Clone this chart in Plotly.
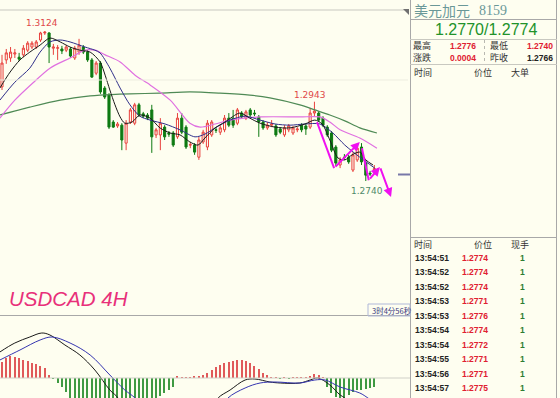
import plotly.graph_objects as go

W, H = 560, 398
BG = "#FEFEF0"

# ---------------- candle data (USDCAD 4H) ----------------
candle_idx = list(range(88))
opens = [1.2981, 1.3050, 1.3055, 1.3065, 1.3057, 1.3063, 1.3075, 1.3083, 1.3083, 1.3101,
         1.3119, 1.3119, 1.3080, 1.3080, 1.3078, 1.3075, 1.3078, 1.3055, 1.3070, 1.3083,
         1.3070, 1.3050, 1.3016, 1.3042, 1.2978, 1.2960, 1.2891, 1.2881, 1.2883, 1.2837,
         1.2891, 1.2888, 1.2935, 1.2912, 1.2909, 1.2922, 1.2858, 1.2858, 1.2878, 1.2863,
         1.2863, 1.2853, 1.2901, 1.2878, 1.2832, 1.2832, 1.2801, 1.2840, 1.2827, 1.2858,
         1.2871, 1.2865, 1.2871, 1.2901, 1.2901, 1.2888, 1.2914, 1.2901, 1.2922, 1.2914,
         1.2904, 1.2891, 1.2876, 1.2883, 1.2881, 1.2873, 1.2858, 1.2871, 1.2863, 1.2871,
         1.2883, 1.2881, 1.2878, 1.2914, 1.2914, 1.2901, 1.2878, 1.2863, 1.2827, 1.2781,
         1.2801, 1.2801, 1.2768, 1.2794, 1.2827, 1.2786, 1.2760, 1.2763]
closes = [1.3042, 1.3068, 1.3070, 1.3068, 1.3052, 1.3080, 1.3093, 1.3093, 1.3096, 1.3119,
          1.3121, 1.3083, 1.3083, 1.3081, 1.3073, 1.3083, 1.3060, 1.3080, 1.3088, 1.3070,
          1.3050, 1.3006, 1.3042, 1.2968, 1.2955, 1.2878, 1.2878, 1.2886, 1.2845, 1.2888,
          1.2922, 1.2935, 1.2909, 1.2906, 1.2901, 1.2853, 1.2871, 1.2888, 1.2853, 1.2860,
          1.2832, 1.2901, 1.2865, 1.2827, 1.2833, 1.2814, 1.2845, 1.2865, 1.2888, 1.2891,
          1.2870, 1.2876, 1.2901, 1.2883, 1.2883, 1.2922, 1.2904, 1.2917, 1.2909, 1.2912,
          1.2891, 1.2876, 1.2883, 1.2886, 1.2858, 1.2865, 1.2876, 1.2881, 1.2876, 1.2873,
          1.2871, 1.2873, 1.2914, 1.2919, 1.2896, 1.2883, 1.2858, 1.2819, 1.2786, 1.2794,
          1.2800, 1.2789, 1.2807, 1.2824, 1.2789, 1.2755, 1.2758, 1.2772]
highs = [1.3063, 1.3078, 1.3083, 1.3078, 1.3068, 1.3088, 1.3098, 1.3098, 1.3101, 1.3122,
         1.3124, 1.3121, 1.3091, 1.3088, 1.3086, 1.3088, 1.3083, 1.3086, 1.3104, 1.3088,
         1.3075, 1.3055, 1.3047, 1.3047, 1.2983, 1.2965, 1.2896, 1.2891, 1.2888, 1.2896,
         1.2927, 1.2940, 1.2940, 1.2917, 1.2914, 1.2935, 1.2876, 1.2901, 1.2883, 1.2868,
         1.2868, 1.2914, 1.2914, 1.2883, 1.2840, 1.2837, 1.2853, 1.2871, 1.2896, 1.2896,
         1.2878, 1.2883, 1.2909, 1.2914, 1.2922, 1.2927, 1.2919, 1.2922, 1.2927, 1.2922,
         1.2909, 1.2896, 1.2891, 1.2896, 1.2886, 1.2878, 1.2883, 1.2886, 1.2881, 1.2878,
         1.2888, 1.2886, 1.2927, 1.2943, 1.2919, 1.2906, 1.2883, 1.2868, 1.2832, 1.2801,
         1.2809, 1.2807, 1.2814, 1.2832, 1.2837, 1.2794, 1.2766, 1.2781]
lows = [1.2973, 1.3040, 1.3045, 1.3055, 1.3047, 1.3057, 1.3070, 1.3078, 1.3078, 1.3096,
        1.3114, 1.3042, 1.3063, 1.3050, 1.3065, 1.3070, 1.3055, 1.3050, 1.3063, 1.3065,
        1.3045, 1.3004, 1.3011, 1.2963, 1.2950, 1.2873, 1.2876, 1.2876, 1.2819, 1.2819,
        1.2886, 1.2883, 1.2904, 1.2901, 1.2896, 1.2812, 1.2850, 1.2819, 1.2845, 1.2853,
        1.2827, 1.2848, 1.2860, 1.2822, 1.2824, 1.2807, 1.2794, 1.2835, 1.2819, 1.2853,
        1.2863, 1.2858, 1.2865, 1.2878, 1.2876, 1.2883, 1.2899, 1.2896, 1.2904, 1.2906,
        1.2853, 1.2871, 1.2871, 1.2878, 1.2853, 1.2860, 1.2853, 1.2865, 1.2858, 1.2865,
        1.2865, 1.2858, 1.2873, 1.2906, 1.2891, 1.2878, 1.2853, 1.2814, 1.2778, 1.2773,
        1.2794, 1.2784, 1.2763, 1.2789, 1.2781, 1.2740, 1.2753, 1.2758]

# moving averages (candle position, price)
ma5_x = [-0.5, 1.9, 4.2, 6.5, 8.9, 11.2, 13.6, 15.9, 18.2, 20.6, 22.9, 24.1, 25.2, 26.4, 27.6,
         28.7, 30.4, 32.2, 34.6, 36.9, 39.3, 41.6, 43.9, 45.8, 47.4, 49.8, 52.1, 55.6, 57.9,
         60.3, 63.8, 67.3, 70.8, 73.1, 74.8, 76.6, 78.5, 80.1, 81.8, 83.6, 85.0, 86.7]
ma5_y = [1.2978, 1.3019, 1.3050, 1.3070, 1.3088, 1.3106, 1.3096, 1.3083, 1.3075, 1.3070, 1.3045,
         1.3011, 1.2973, 1.2935, 1.2904, 1.2888, 1.2891, 1.2909, 1.2901, 1.2876, 1.2863, 1.2858,
         1.2840, 1.2832, 1.2850, 1.2876, 1.2891, 1.2914, 1.2901, 1.2888, 1.2878, 1.2876, 1.2886,
         1.2896, 1.2886, 1.2845, 1.2799, 1.2794, 1.2807, 1.2814, 1.2794, 1.2781]
ma10_x = [-0.5, 3.0, 6.5, 8.9, 11.2, 13.6, 15.9, 19.4, 21.7, 22.9, 25.2, 27.6, 29.9, 32.2, 34.6,
          38.1, 41.6, 45.1, 47.4, 49.8, 53.3, 56.8, 60.3, 63.8, 67.3, 70.8, 74.3, 77.3, 80.1,
          83.6, 87.1]
ma10_y = [1.2947, 1.2993, 1.3029, 1.3070, 1.3096, 1.3101, 1.3096, 1.3083, 1.3075, 1.3068, 1.3029,
          1.2978, 1.2935, 1.2906, 1.2896, 1.2886, 1.2871, 1.2853, 1.2860, 1.2876, 1.2896, 1.2906,
          1.2896, 1.2886, 1.2883, 1.2886, 1.2886, 1.2863, 1.2832, 1.2801, 1.2773]
ma20_x = [-0.5, 3.0, 7.2, 11.2, 15.9, 19.4, 21.7, 24.1, 27.6, 31.1, 34.6, 39.3, 43.9, 46.3, 49.8,
          53.3, 60.3, 69.6, 74.3, 76.6, 79.0, 83.6, 87.6]
ma20_y = [1.2901, 1.2947, 1.2991, 1.3029, 1.3055, 1.3075, 1.3075, 1.3063, 1.3045, 1.3011, 1.2986,
          1.2947, 1.2888, 1.2878, 1.2886, 1.2896, 1.2904, 1.2904, 1.2904, 1.2891, 1.2871, 1.2850,
          1.2824]
ma60_x = [-0.5, 6.5, 13.6, 20.6, 22.9, 29.9, 36.9, 43.9, 50.9, 57.9, 62.6, 69.6, 73.1, 76.6, 80.1,
          83.6, 87.6]
ma60_y = [1.2909, 1.2929, 1.2947, 1.2958, 1.2960, 1.2963, 1.2965, 1.2968, 1.2965, 1.2960, 1.2953,
          1.2935, 1.2922, 1.2909, 1.2894, 1.2876, 1.2863]

# MACD
macd_hist = [0.0008, 0.0010, 0.0011, 0.00105, 0.0010, 0.0009, 0.00085, 0.00075, 0.0007, 0.0006,
             0.0005, 0.00015, -0.00005, -0.00025, -0.00045, -0.0007, -0.0011, -0.0015, -0.0019, -0.0022,
             -0.0025, -0.0028, -0.0030, -0.0033, -0.0035, -0.0038, -0.0040, -0.0041, -0.0040, -0.0038,
             -0.0035, -0.0032, -0.0030, -0.0027, -0.0024, -0.0020, -0.0011, -0.0009, -0.00075, -0.0006,
             -0.00045, 0.0001, 0.00003, 0.00003, 0.00005, 0.0001, 0.00012, 0.00015, 0.00025, 0.0004,
             0.00055, 0.00065, 0.00075, 0.0008, 0.00085, 0.0009, 0.0009, 0.00085, 0.00075, 0.0006,
             0.00045, 0.00025, 0.00015, 0.00005, 0.00002, -0.00002, 0.00002, -0.00002, 0.00002, 0.00002,
             0.00003, 0.00005, 0.0001, 0.0002, 0.00015, 0.00005, -0.00045, -0.00075, -0.00095, -0.0010,
             -0.0010, -0.00085, -0.0007, -0.0006, -0.0006, -0.00055, -0.0005, -0.00045]
dif_x = [-0.5, 3.0, 6.5, 9.3, 11.2, 14.7, 18.2, 21.7, 25.2, 27.1, 28.0, 35.0, 42.0, 49.1, 50.5,
         53.3, 56.8, 59.1, 62.6, 65.0, 69.6, 72.0, 73.8, 76.6, 79.0, 80.1, 81.3, 87.5]
dif_y = [0.0013, 0.00175, 0.00205, 0.00225, 0.00215, 0.00165, 0.00115, 0.0004, -0.0006, -0.0010,
         -0.0016, -0.0040, -0.0040, -0.0016, -0.0010, -0.0006, -0.0001, -0.00005, -0.0002, -0.00025,
         -0.00025, -0.0001, 0.0, -0.00035, -0.00085, -0.0010, -0.00135, -0.0025]
dea_x = [-0.5, 4.2, 8.9, 11.7, 15.9, 20.6, 25.2, 28.7, 31.1, 33.4, 40.0, 47.0, 51.0, 52.8, 56.8,
         60.3, 63.8, 69.6, 73.1, 75.5, 79.0, 83.6, 85.5, 87.5]
dea_y = [0.0009, 0.0014, 0.0019, 0.00205, 0.00175, 0.00115, 0.00015, -0.0006, -0.0010, -0.0016,
         -0.0030, -0.0030, -0.0016, -0.0010, -0.0005, -0.00025, -0.0002, -0.00025, -0.0001, -0.0001,
         -0.00045, -0.00075, -0.0010, -0.0013]

# hand-drawn magenta arrows (candle position, price)
arrow_a_x = [73.6, 77.6, 83.6]
arrow_a_y = [1.2891, 1.2773, 1.2840]
arrow_b_x = [84.1, 85.7, 88.3]
arrow_b_y = [1.2824, 1.2742, 1.2776]
arrow_c_x = [88.3, 90.9]
arrow_c_y = [1.2776, 1.2699]

# quote panel
title_name = "美元加元"
title_code = "8159"
bid_ask = "1.2770/1.2774"
day_high = "1.2776"
day_low = "1.2740"
change = "0.0004"
prev_close = "1.2766"
tick_times = ["13:54:51", "13:54:52", "13:54:52", "13:54:53", "13:54:53",
              "13:54:54", "13:54:54", "13:54:55", "13:54:56", "13:54:57"]
tick_prices = ["1.2774", "1.2774", "1.2774", "1.2771", "1.2776",
               "1.2774", "1.2772", "1.2771", "1.2771", "1.2775"]
tick_vols = ["1", "1", "1", "1", "1", "1", "1", "1", "1", "1"]

RED = "#E8403C"
GREEN = "#0E7A12"
CJK = "Noto Sans CJK SC"
NUM = "Liberation Sans"

fig = go.Figure()

fig.add_trace(go.Candlestick(
    x=candle_idx, open=opens, high=highs, low=lows, close=closes,
    increasing=dict(line=dict(color=RED, width=1), fillcolor=BG),
    decreasing=dict(line=dict(color=GREEN, width=1), fillcolor=GREEN),
    whiskerwidth=0, xaxis="x", yaxis="y", showlegend=False))

for xs, ys, col, lw in [(ma60_x, ma60_y, "#4F8A55", 1.2), (ma20_x, ma20_y, "#E070E0", 1.2),
                        (ma10_x, ma10_y, "#30308A", 1), (ma5_x, ma5_y, "#1A1A1A", 1)]:
    fig.add_trace(go.Scatter(x=xs, y=ys, mode="lines", line=dict(color=col, width=lw, shape="spline", smoothing=0.8),
                             xaxis="x", yaxis="y", showlegend=False, hoverinfo="skip"))

# arrows: body segments
MAG = "#F010F0"
for xs, ys in [(arrow_a_x[:2], arrow_a_y[:2]), (arrow_b_x[:2], arrow_b_y[:2])]:
    fig.add_trace(go.Scatter(x=xs, y=ys, mode="lines", line=dict(color=MAG, width=2),
                             xaxis="x", yaxis="y", showlegend=False, hoverinfo="skip"))

annotations = []
for xs, ys in [(arrow_a_x[1:], arrow_a_y[1:]), (arrow_b_x[1:], arrow_b_y[1:]), (arrow_c_x, arrow_c_y)]:
    annotations.append(dict(x=xs[1], y=ys[1], ax=xs[0], ay=ys[0], xref="x", yref="y", axref="x", ayref="y",
                            showarrow=True, arrowhead=2, arrowsize=0.9, arrowwidth=2, arrowcolor=MAG, text=""))

# MACD
hist_colors = ["#E05A5A" if v >= 0 else "#3F9A42" for v in macd_hist]
fig.add_trace(go.Bar(x=candle_idx, y=macd_hist, marker=dict(color=hist_colors, line=dict(width=0)),
                     width=0.3, xaxis="x2", yaxis="y2", showlegend=False, hoverinfo="skip"))
fig.add_trace(go.Scatter(x=dif_x, y=dif_y, mode="lines", line=dict(color="#1A1A1A", width=1, shape="spline"),
                         xaxis="x2", yaxis="y2", showlegend=False, hoverinfo="skip"))
fig.add_trace(go.Scatter(x=dea_x, y=dea_y, mode="lines", line=dict(color="#3535B0", width=1, shape="spline"),
                         xaxis="x2", yaxis="y2", showlegend=False, hoverinfo="skip"))

# high / low labels
annotations.append(dict(x=9.4, y=highs[10], xref="x", yref="y", text="1.3124", showarrow=False,
                        yanchor="bottom", yshift=1, font=dict(size=9, color="#E04848", family="DejaVu Sans")))
annotations.append(dict(x=72.0, y=highs[73], xref="x", yref="y", text="1.2943", showarrow=False,
                        yanchor="bottom", yshift=0, font=dict(size=9, color="#E04848", family="DejaVu Sans")))
annotations.append(dict(x=85.3, y=lows[85], xref="x", yref="y", text="1.2740", showarrow=False,
                        yanchor="top", yshift=-3, font=dict(size=9, color="#4F8A6A", family="DejaVu Sans")))


def px(x):
    return x / W


def py(y):
    return 1 - y / H


def text(x, y, s, size, color, family, xanchor="left", bold=False):
    if bold:
        s = "<b>" + s + "</b>"
    annotations.append(dict(x=px(x), y=py(y), xref="paper", yref="paper", text=s, showarrow=False,
                            xanchor=xanchor, yanchor="middle", font=dict(size=size, color=color, family=family)))


text(7, 298, "<i>USDCAD 4H</i>", 20.5, "#E8307A", "Liberation Sans")
text(370, 310, "3时4分56秒", 7.5, "#3A3A80", CJK)

text(412, 10, title_name, 14, "#6A9898", CJK)
text(477, 10, title_code, 14, "#6A9898", "Liberation Serif")
text(486, 30, bid_ask, 16, "#22922A", "Liberation Sans", xanchor="center")
text(411, 46, "最高", 9, "#333333", CJK)
text(478, 46, day_high, 8.5, "#E02030", NUM, xanchor="right", bold=True)
text(488, 46, "最低", 9, "#333333", CJK)
text(555, 46, day_low, 8.5, "#E02030", NUM, xanchor="right", bold=True)
text(411, 58, "涨跌", 9, "#333333", CJK)
text(478, 58, change, 8.5, "#E02030", NUM, xanchor="right", bold=True)
text(488, 58, "昨收", 9, "#333333", CJK)
text(555, 58, prev_close, 8.5, "#222222", NUM, xanchor="right", bold=True)
text(412, 72, "时间", 9, "#333333", CJK)
text(472, 72, "价位", 9, "#333333", CJK)
text(509, 72, "大单", 9, "#333333", CJK)

text(412, 244, "时间", 9, "#333333", CJK)
text(472, 244, "价位", 9, "#333333", CJK)
text(509, 244, "现手", 9, "#333333", CJK)
for k in range(len(tick_times)):
    yy = 257.5 + 14.55 * k
    text(413, yy, tick_times[k], 8.5, "#222222", NUM, bold=True)
    text(490, yy, tick_prices[k], 8.5, "#E02030", NUM, xanchor="right", bold=True)
    text(527, yy, tick_vols[k], 8.5, "#2E7D32", NUM, xanchor="right", bold=True)

shapes = []


def hline(x0, x1, y, color, width=1, dash="solid"):
    shapes.append(dict(type="line", xref="paper", yref="paper", x0=px(x0), x1=px(x1), y0=py(y), y1=py(y),
                       line=dict(color=color, width=width, dash=dash)))


def vline(x, y0, y1, color, width=1, dash="solid"):
    shapes.append(dict(type="line", xref="paper", yref="paper", x0=px(x), x1=px(x), y0=py(y0), y1=py(y1),
                       line=dict(color=color, width=width, dash=dash)))


hline(0, 408, 10, "#C8C8C0")
hline(0, 408, 80, "#EDEDE0")
hline(0, 410, 315.5, "#A8A8A8")
hline(0, 410, 378, "#D0D0C8")
hline(398, 410, 174.5, "#7878A8", width=2)
vline(410.5, 0, 398, "#A8A8A8")
vline(556.5, 0, 398, "#A8A8A8")
hline(410, 557, 19.5, "#A8A8A8")
hline(410, 557, 39.5, "#C8C8C0")
hline(410, 557, 64.5, "#C8C8C0")
vline(484.5, 40, 64, "#B8B8B0", dash="dot")
hline(410, 557, 237.5, "#A8A8A8")
# countdown box
shapes.append(dict(type="rect", xref="paper", yref="paper", x0=px(368), x1=px(410), y0=py(316), y1=py(304),
                   line=dict(color="#B0B8D8", width=1), fillcolor="rgba(0,0,0,0)"))
# small corner marker
shapes.append(dict(type="path", xref="paper", yref="paper",
                   path=f"M {px(403)} {py(9)} L {px(409)} {py(9)} L {px(409)} {py(15)} Z",
                   fillcolor="#707070", line=dict(width=0)))

xr = [-0.467, 95.33]
fig.update_layout(
    width=W, height=H, margin=dict(l=0, r=0, t=0, b=0),
    paper_bgcolor=BG, plot_bgcolor=BG, showlegend=False,
    xaxis=dict(domain=[0, 410 / W], range=xr, visible=False, rangeslider=dict(visible=False), anchor="y"),
    yaxis=dict(domain=[1 - 315 / H, 1 - 10 / H], range=[1.2397, 1.31778], visible=False, anchor="x"),
    xaxis2=dict(domain=[0, 410 / W], range=xr, visible=False, anchor="y2"),
    yaxis2=dict(domain=[0, 1 - 315 / H], range=[-0.0010, 0.00315], visible=False, anchor="x2"),
    annotations=annotations, shapes=shapes, bargap=0,
)

fig.write_html("out.html", config={"displayModeBar": False},
               post_script="document.body.style.margin='0';document.body.style.padding='0';"
                           "document.body.style.overflow='hidden';document.body.style.background='" + BG + "';")
